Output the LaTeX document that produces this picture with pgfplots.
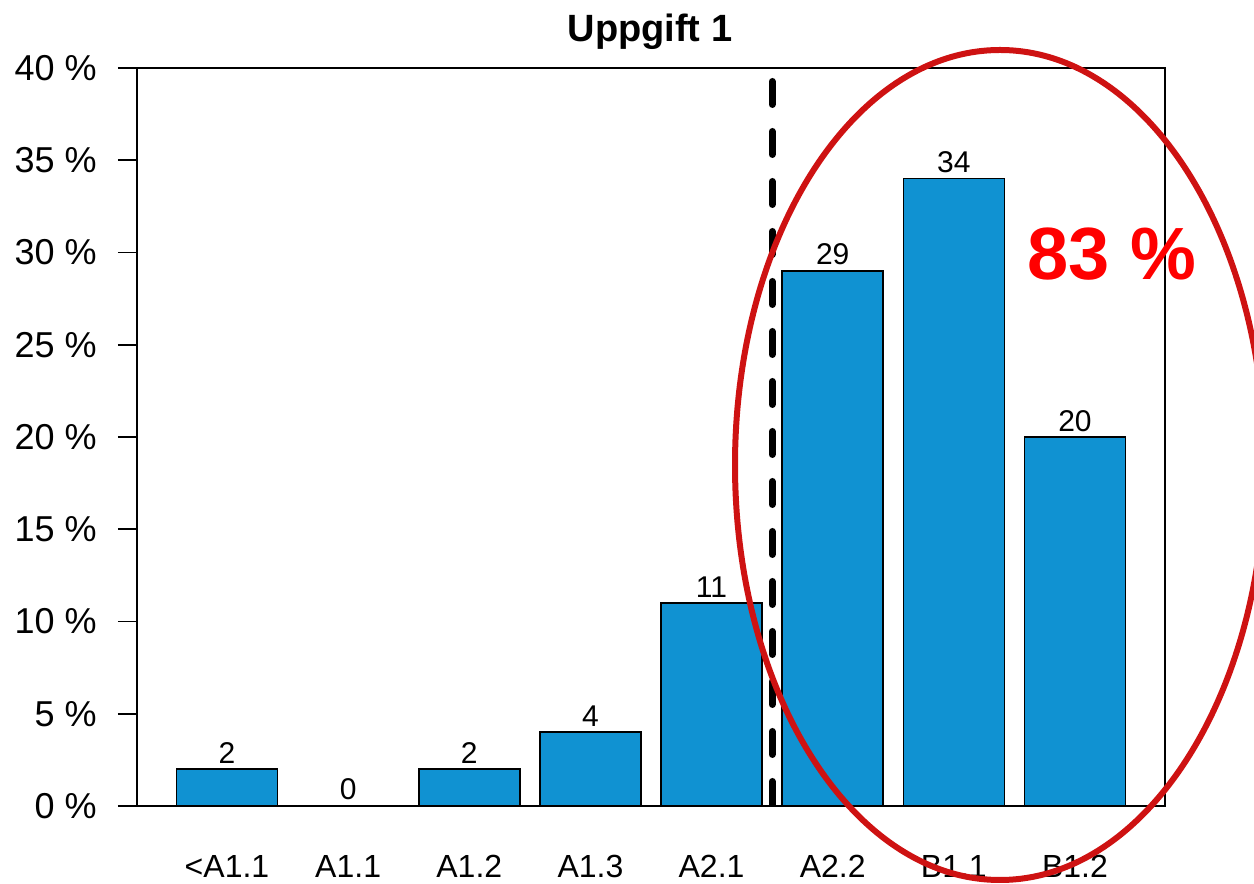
\documentclass[border=0pt]{standalone}
\usepackage{fontspec}
\setmainfont{Liberation Sans}
\usepackage{pgfplots}
\pgfplotsset{compat=1.18}
\definecolor{barblue}{RGB}{16,146,210}
\definecolor{ellred}{RGB}{206,18,18}
\begin{document}
\begin{tikzpicture}
\begin{axis}[
  at={(0,0)}, anchor=south west,
  scale only axis, width=514pt, height=369pt,
  xmin=-0.743, xmax=7.743, ymin=0, ymax=40,
  axis line style={line width=0.9pt},
  /pgf/number format/assume math mode=true,
  ytick={0,5,...,40},
  yticklabels={0 \%,5 \%,10 \%,15 \%,20 \%,25 \%,30 \%,35 \%,40 \%},
  ytick pos=left,
  tick align=outside,
  major tick length=9.5pt,
  ytick style={line width=0.9pt, black},
  xtick={0,...,7},
  xticklabels={{<A1.1},A1.1,A1.2,A1.3,A2.1,A2.2,B1.1,B1.2},
  xtick style={draw=none},
  yticklabel style={font=\fontsize{18}{20}\selectfont, anchor=east, inner sep=0pt, xshift=-10.5pt},
  xticklabel style={font=\fontsize{16}{18}\selectfont, anchor=base, inner sep=0pt, yshift=-26.5pt},
]
\addplot[ybar, bar width=0.834, fill=barblue, draw=black, line width=0.75pt,
  nodes near coords,
  nodes near coords style={font=\fontsize{15}{17}\selectfont, anchor=base, inner sep=0pt, yshift=3pt, text=black}]
  coordinates {(0,2) (1,0) (2,2) (3,4) (4,11) (5,29) (6,34) (7,20)};
\addplot[black, line width=3.5pt, line cap=round, dash pattern=on 11.5pt off 13.5pt]
  coordinates {(4.5,39.27) (4.5,0)};
\end{axis}
\draw[ellred, line width=3pt] (431.5pt,170.5pt) ellipse [x radius=132.5pt, y radius=207.5pt];
\node[anchor=base, text=red, inner sep=0pt, font=\bfseries\fontsize{37}{40}\selectfont] at (487.5pt,263pt) {83 \%};
\node[anchor=base, inner sep=0pt, font=\bfseries\fontsize{19}{22}\selectfont] at (256.5pt,382pt) {Uppgift 1};
\pgfresetboundingbox
\path[use as bounding box] (-68.5pt,-39pt) rectangle (558.5pt,403pt);
\end{tikzpicture}
\end{document}
